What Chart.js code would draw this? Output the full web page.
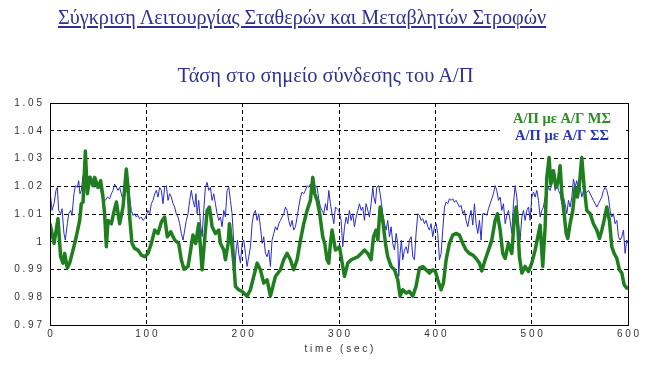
<!DOCTYPE html>
<html>
<head>
<meta charset="utf-8">
<script src="https://cdn.jsdelivr.net/npm/chart.js@4"></script>
<style>
  body { margin: 0; background: #fff; }
  #wrap { position: relative; width: 651px; height: 371px; }
  #chart { position: absolute; left: 0; top: 0; }
  .ttl { position: absolute; font-family: "Liberation Serif", serif; color: #2e3192; white-space: nowrap; }
  #main { left: 58px; top: 6px; font-size: 20.2px; text-decoration: underline; }
  #sub { left: 0; width: 651px; text-align: center; top: 64px; font-size: 20.4px; padding-right: 2px; }
</style>
</head>
<body>
<div id="wrap">
  <canvas id="chart" width="651" height="371"></canvas>
  <div class="ttl" id="main">Σύγκριση Λειτουργίας Σταθερών και Μεταβλητών Στροφών</div>
  <div class="ttl" id="sub">Τάση στο σημείο σύνδεσης του Α/Π</div>
</div>
<script>
// series names
const seriesNames = ['Α/Π με Α/Γ ΜΣ', 'Α/Π με Α/Γ ΣΣ'];

// green series (variable speed) - time in sec, voltage in pu
const greenTime = [0,4.2,8.3,11,13.5,15.2,18,20.4,23.9,27.3,30.8,32.5,34.3,36.7,38.8,41.2,44.6,46.4,49.8,52.6,55,56.7,58.5,60.2,63.7,67.1,68.9,72.3,75.8,79.2,81,82.7,85.1,87.9,91.3,94.8,98.3,101.7,105.2,108.7,112.1,115.6,119,121.8,125.3,129.4,133.6,136.3,139.1,143.3,146,148.4,151.2,154.4,157.9,163.1,165.5,168.3,171.7,175.2,176.9,180.4,182.1,184.9,186.3,188.3,190.8,192.5,195.9,199.4,204.6,208,211.5,215,218.4,221.9,225.4,228.8,230.5,234,239.2,242.6,246.1,249.6,253,256.5,260,263.4,266.9,270.3,272.8,274.8,277.3,280,283.1,285.2,287.6,289.4,291.1,292.8,296.3,300.5,303.9,305.7,309.1,312.6,316,319.5,323,326.4,329.9,333.3,335.8,338.5,340.3,342.7,345.4,348.2,350.6,354.1,357.6,361,363.4,366.2,369.7,373.1,376.6,380,383.5,387,390.4,393.9,397.3,400.1,402.5,406,408.4,411.2,414.6,418.1,421.6,425,428.5,431.9,435.4,438.9,442.3,445.8,448.2,451.7,455.2,458.6,462.1,464.5,467.3,470,472.5,475.9,479.4,481.8,483.9,485.6,487.3,489.8,493.2,496.7,500.1,503.6,507.1,508.8,511.5,514,515.7,518.1,519.9,522.6,525.4,527.8,529.5,531.3,533.7,535.8,537.5,539.9,542.7,545.1,547.5,549.6,552,554.5,557.2,560.7,564.1,567.6,570.4,572.8,575.2,578,580.7,583.2,585.6,588.4,591.1,593.6,596,598.7,600];
const greenVolt = [1.0065,0.9994,1.0083,0.9946,0.9923,0.9958,0.9905,0.9923,0.9970,1.0018,1.0077,1.0137,1.0143,1.0327,1.0173,1.0232,1.0202,1.0232,1.0196,1.0220,1.0161,1.0101,0.9982,1.0077,1.0065,1.0119,1.0143,1.0065,1.0125,1.0262,1.0196,1.0089,0.9994,0.9976,0.9970,0.9952,0.9946,0.9958,0.9994,1.0042,1.0030,1.0071,1.0089,1.0018,1.0036,1.0006,0.9994,0.9935,0.9901,0.9911,0.9970,1.0024,0.9994,1.0065,0.9899,1.0113,1.0125,1.0054,1.0030,1.0042,0.9994,0.9970,0.9935,0.9994,1.0065,1.0006,0.9923,0.9839,0.9827,0.9821,0.9804,0.9827,0.9875,0.9923,0.9899,0.9851,0.9863,0.9804,0.9827,0.9875,0.9899,0.9935,0.9958,0.9935,0.9899,0.9935,1.0006,1.0065,1.0113,1.0149,1.0232,1.0173,1.0149,1.0101,1.0018,0.9994,0.9935,0.9923,0.9994,1.0042,0.9970,0.9982,0.9911,0.9875,0.9923,0.9935,0.9940,0.9946,0.9958,0.9970,0.9958,0.9935,1.0018,1.0042,1.0006,1.0125,1.0077,0.9994,0.9946,0.9911,0.9899,0.9863,0.9804,0.9827,0.9815,0.9821,0.9804,0.9839,0.9905,0.9911,0.9899,0.9887,0.9899,0.9893,0.9863,0.9827,0.9851,0.9935,0.9994,1.0024,1.0030,1.0024,0.9994,0.9970,0.9958,0.9952,0.9940,0.9923,0.9895,0.9935,0.9970,1.0006,1.0077,1.0101,1.0042,0.9958,0.9940,0.9994,0.9958,1.0077,1.0125,1.0054,0.9946,0.9887,0.9911,0.9893,0.9923,0.9970,1.0030,1.0060,0.9911,1.0054,1.0232,1.0304,1.0208,1.0256,1.0196,1.0220,1.0274,1.0173,1.0101,1.0030,1.0012,1.0065,1.0113,1.0196,1.0161,1.0208,1.0304,1.0196,1.0113,1.0101,1.0065,1.0042,1.0012,1.0042,1.0077,1.0125,1.0077,0.9982,0.9958,0.9940,0.9899,0.9887,0.9845,0.9833,0.9839];

// blue series (constant speed)
const blueTime = [0,2.1,4.2,6.2,7.6,9,11.1,12.5,14.5,15.9,18,19.4,21.5,22.8,24.9,26.3,28.4,29.8,31.1,32.5,34.3,36,37.7,40.1,42.2,44.6,46.4,48.1,49.8,52.6,55,57.4,59.5,61.9,63.7,65.4,67.1,68.9,70.6,72.3,74,75.8,77.5,79.2,81,82.7,84.4,86.2,87.9,89.6,91.3,93.1,94.8,96.5,98.3,100,101.7,103.5,105.2,106.9,108.7,110.4,112.1,113.8,115.6,117.3,119,120.8,122.5,124.2,126,127.7,129.4,131.1,132.9,134.6,136.3,138.1,139.8,141.5,143.3,145,146.7,148.4,150.2,151.5,152.7,154.4,156.2,157.9,159.6,161.3,163.1,164.8,166.5,168.3,170,171.7,173.5,175.2,176.9,178.6,180.4,182.1,183.8,185.6,187.3,189,190.8,191.8,193.2,194.6,195.9,197.7,199.4,201.1,202.9,204.6,206.3,208.1,209.8,211.5,213.2,215,216.7,218.4,220.2,221.9,223.6,225.4,227.1,228.8,230.5,232.3,234,235.7,237.5,239.2,240.9,242.7,244.4,246.1,247.8,249.6,251.3,253,254.8,256.5,258.2,260,261.7,263.4,265.1,266.9,268.6,270.3,272.1,273.8,275.5,277.3,279,280.7,282.4,284.2,285.9,287.6,289.4,291.1,292.8,294.6,296.3,298,299.7,302.2,303.9,305.7,307.4,309.1,310.8,312.6,314.3,316,317.8,319.5,321.2,323,324.7,326.4,328.1,329.9,331.6,333.3,335.1,336.1,337.8,339.2,341.3,342.7,344.1,345.4,347.2,348.9,350.6,352.4,354.1,355.8,357.6,359.3,361,362,363.4,364.8,366.2,367.9,369.7,371.4,373.1,374.9,376.6,378.3,380,381.8,383.5,385.2,387,388.7,390.4,392.2,393.9,395.6,397.3,399.1,400.8,402.5,404.3,406,407.7,409.5,411.2,412.9,414.6,416.4,418.1,419.8,421.6,423.3,425,426.8,428.5,430.2,431.9,433.7,435.4,437.1,438.9,440.6,442.3,444.1,445.8,447.5,449.2,451.7,453.4,455.2,456.9,458.6,460.3,462.1,463.8,465.5,467.3,469,470.7,472.5,474.2,475.9,477.6,479.4,481.1,482.8,484.6,486.3,488,489.8,491.5,493.2,494.9,496.7,498.4,500.1,501.9,503.6,505.3,507.1,508.8,510.5,512.2,514,515.7,517.4,519.2,520.9,522.6,524.4,526.1,527.8,529.5,531.3,533,534.7,536.5,538.2,539.9,541.7,543.4,545.1,546.8,548.6,550.3,552,553.8,555.5,557.2,559,560.7,562.4,564.1,565.9,567.6,569.3,571.1,572.8,574.5,576.3,578,579.7,581.4,583.2,584.9,586.6,588.4,590.1,591.8,593.6,595.3,597,598.7,600];
const blueVolt = [1.0185,1.0113,1.0137,1.0185,1.0196,1.0113,1.0101,1.0119,1.0030,1.0006,1.0065,1.0101,1.0113,1.0095,1.0173,1.0202,1.0196,1.0220,1.0173,1.0185,1.0238,1.0196,1.0232,1.0208,1.0238,1.0220,1.0196,1.0208,1.0214,1.0185,1.0149,1.0149,1.0161,1.0155,1.0173,1.0185,1.0208,1.0196,1.0185,1.0196,1.0173,1.0149,1.0161,1.0185,1.0173,1.0161,1.0113,1.0095,1.0101,1.0089,1.0095,1.0083,1.0089,1.0077,1.0083,1.0095,1.0113,1.0101,1.0137,1.0149,1.0173,1.0185,1.0161,1.0196,1.0185,1.0137,1.0196,1.0202,1.0149,1.0173,1.0161,1.0137,1.0125,1.0101,1.0089,1.0065,1.0030,1.0006,1.0042,1.0077,1.0101,1.0149,1.0185,1.0149,1.0125,1.0173,1.0101,1.0149,1.0065,1.0018,1.0113,1.0196,1.0214,1.0185,1.0196,1.0149,1.0173,1.0137,1.0101,1.0077,1.0089,1.0054,1.0113,1.0089,1.0185,1.0196,1.0149,1.0101,0.9994,0.9899,0.9970,1.0006,0.9958,0.9923,0.9994,1.0006,0.9958,0.9911,0.9946,0.9982,1.0065,1.0101,1.0113,1.0077,1.0101,1.0054,0.9994,1.0018,0.9958,0.9946,0.9970,0.9911,1.0006,1.0030,1.0054,1.0042,1.0065,1.0077,1.0089,1.0101,1.0125,1.0113,1.0077,1.0054,1.0077,1.0042,1.0054,1.0089,1.0125,1.0161,1.0179,1.0173,1.0185,1.0202,1.0196,1.0208,1.0185,1.0208,1.0202,1.0196,1.0155,1.0125,1.0113,1.0101,1.0137,1.0113,1.0185,1.0137,1.0101,1.0065,1.0125,1.0119,1.0113,1.0077,0.9982,1.0054,1.0089,1.0065,1.0113,1.0077,1.0101,1.0054,1.0089,1.0113,1.0137,1.0113,1.0125,1.0077,1.0137,1.0113,1.0089,1.0137,1.0196,1.0161,1.0137,1.0196,1.0202,1.0173,1.0137,1.0101,1.0065,1.0042,1.0077,1.0018,1.0054,0.9994,0.9970,1.0030,0.9994,0.9875,0.9958,1.0006,0.9935,0.9970,0.9982,0.9958,1.0006,1.0018,0.9946,0.9935,1.0030,1.0101,1.0095,1.0077,1.0083,1.0065,1.0077,1.0054,1.0042,1.0065,1.0018,1.0054,1.0065,1.0030,0.9935,0.9958,1.0042,1.0125,1.0143,1.0137,1.0155,1.0149,1.0155,1.0143,1.0149,1.0137,1.0125,1.0131,1.0101,1.0113,1.0077,1.0054,1.0089,1.0113,1.0060,1.0137,1.0065,1.0030,1.0077,1.0006,1.0101,1.0101,1.0095,1.0119,1.0137,1.0155,1.0173,1.0202,1.0185,1.0149,1.0161,1.0113,1.0137,1.0065,1.0095,1.0113,1.0077,1.0030,1.0137,1.0202,1.0161,1.0065,1.0006,1.0089,1.0113,1.0077,1.0113,1.0125,1.0077,1.0161,1.0179,1.0161,1.0185,1.0149,1.0089,1.0113,1.0125,1.0161,1.0173,1.0196,1.0185,1.0208,1.0232,1.0185,1.0220,1.0185,1.0173,1.0137,1.0161,1.0137,1.0101,1.0149,1.0125,1.0161,1.0226,1.0196,1.0220,1.0185,1.0196,1.0161,1.0185,1.0173,1.0179,1.0185,1.0173,1.0161,1.0149,1.0137,1.0125,1.0137,1.0149,1.0161,1.0185,1.0196,1.0185,1.0161,1.0113,1.0089,1.0101,1.0065,1.0077,1.0018,1.0006,1.0018,1.0042,0.9958,1.0006,0.9994];

// axis settings
const xRange = [0, 600];
const yRange = [0.97, 1.05];
const xLabel = 'time (sec)';

const spaced = s => String(s).split('').join(' ');
const toPoints = (ts, vs) => ts.map((t, i) => ({ x: t, y: vs[i] }));

// frame, legend box and x title
const extras = {
  id: 'extras',
  afterDraw(chart) {
    const { ctx, chartArea: a } = chart;
    ctx.save();
    // legend with white backing
    ctx.fillStyle = '#fff';
    ctx.fillRect(a.right - 128, a.top + 1, 126, 46);
    ctx.font = 'bold 14.5px "Liberation Serif"';
    ctx.textAlign = 'center';
    ctx.textBaseline = 'middle';
    ctx.fillStyle = '#2f8a2a';
    ctx.fillText(seriesNames[0], a.right - 66, a.top + 16);
    ctx.fillStyle = '#2a35b8';
    ctx.fillText(seriesNames[1], a.right - 66, a.top + 33);
    // frame
    ctx.strokeStyle = '#000';
    ctx.lineWidth = 1;
    ctx.strokeRect(Math.round(a.left) + 0.5, Math.round(a.top) + 0.5, Math.round(a.width), Math.round(a.height));
    // x axis title
    ctx.font = '10px "Liberation Sans"';
    ctx.fillStyle = '#333';
    ctx.fillText(spaced(xLabel).replace(/ {3}/g, '   '), (a.left + a.right) / 2, a.bottom + 24);
    ctx.restore();
  }
};

new Chart(document.getElementById('chart'), {
  type: 'line',
  data: {
    datasets: [
      {
        label: seriesNames[0],
        data: toPoints(greenTime, greenVolt),
        borderColor: '#1f7f1f',
        borderWidth: 3.5,
        pointRadius: 0,
        borderJoinStyle: 'round',
        tension: 0
      },
      {
        label: seriesNames[1],
        data: toPoints(blueTime, blueVolt),
        borderColor: '#2a2ad0',
        borderWidth: 1,
        pointRadius: 0,
        tension: 0
      }
    ]
  },
  plugins: [extras],
  options: {
    responsive: false,
    animation: false,
    layout: { padding: { top: 103, right: 23, left: 0, bottom: 0 } },
    plugins: { legend: { display: false }, title: { display: false }, tooltip: { enabled: false } },
    scales: {
      x: {
        type: 'linear',
        min: xRange[0],
        max: xRange[1],
        afterFit: s => { s.height = 46; },
        ticks: {
          stepSize: 100,
          padding: 3,
          maxRotation: 0,
          color: '#333',
          font: { family: 'Liberation Sans', size: 10 },
          callback: v => spaced(v)
        },
        grid: { color: '#000', lineWidth: 1, drawTicks: false },
        border: { display: false, dash: [4, 3] }
      },
      y: {
        min: yRange[0],
        max: yRange[1],
        afterFit: s => { s.width = 50; },
        ticks: {
          stepSize: 0.01,
          padding: 8,
          color: '#333',
          font: { family: 'Liberation Sans', size: 10 },
          callback: v => spaced(Number(v.toFixed(2)))
        },
        grid: { color: '#000', lineWidth: 1, drawTicks: false },
        border: { display: false, dash: [4, 3] }
      }
    }
  }
});
</script>
</body>
</html>
